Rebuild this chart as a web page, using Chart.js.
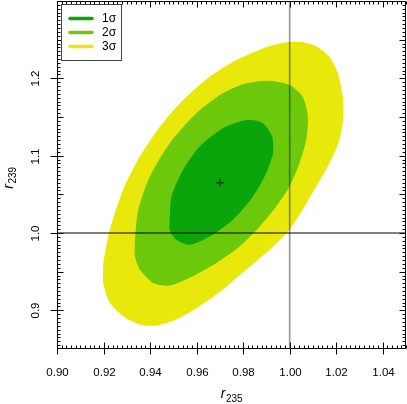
<!DOCTYPE html>
<html>
<head>
<meta charset="utf-8">
<script src="https://cdn.jsdelivr.net/npm/chart.js@4.4.1/dist/chart.umd.min.js"></script>
<style>
  html, body { margin: 0; padding: 0; background: #fff; }
  canvas { display: block; }
</style>
</head>
<body>
<canvas id="contourChart" width="407" height="404"></canvas>
<script>
// axis ticks
const xTicks = [0.90, 0.92, 0.94, 0.96, 0.98, 1.00, 1.02, 1.04];
const yTicks = [0.9, 1.0, 1.1, 1.2];
const sigmaLabels = ["1σ", "2σ", "3σ"];

// best fit point and reference lines
const bestFit = [0.970, 1.065];
const refX = 1.0;
const refY = 1.0;

// contour outlines [r235, r239]
const sigma1 = [
  [0.9485, 1.0214], [0.9492, 1.0472], [0.9542, 1.0817], [0.9613, 1.1117],
  [0.9713, 1.1355], [0.9814, 1.1462], [0.9885, 1.1419], [0.9925, 1.1246],
  [0.9928, 1.1032], [0.9899, 1.0774], [0.9842, 1.0472], [0.9756, 1.0172],
  [0.9656, 0.9956], [0.9570, 0.9849], [0.9513, 0.9914], [0.9485, 1.0043],
  [0.9485, 1.0214]
];
const sigma2 = [
  [0.9335, 0.9914], [0.9349, 1.0301], [0.9399, 1.0730], [0.9485, 1.1161],
  [0.9599, 1.1548], [0.9713, 1.1806], [0.9814, 1.1935], [0.9914, 1.1969],
  [0.9999, 1.1913], [1.0056, 1.1762], [1.0078, 1.1504], [1.0071, 1.1204],
  [1.0042, 1.0903], [0.9999, 1.0601], [0.9942, 1.0343], [0.9871, 1.0085],
  [0.9785, 0.9827], [0.9685, 0.9613], [0.9570, 0.9420], [0.9485, 0.9320],
  [0.9413, 0.9355], [0.9356, 0.9527], [0.9335, 0.9698], [0.9335, 0.9914]
];
const sigma3 = [
  [0.9199, 0.9613], [0.9227, 1.0043], [0.9284, 1.0559], [0.9356, 1.0988],
  [0.9442, 1.1375], [0.9542, 1.1720], [0.9656, 1.2020], [0.9771, 1.2236],
  [0.9885, 1.2387], [0.9971, 1.2459], [1.0042, 1.2472], [1.0114, 1.2416],
  [1.0171, 1.2278], [1.0207, 1.2064], [1.0228, 1.1762], [1.0231, 1.1504],
  [1.0214, 1.1204], [1.0171, 1.0903], [1.0114, 1.0601], [1.0056, 1.0301],
  [0.9999, 1.0043], [0.9914, 0.9785], [0.9814, 0.9527], [0.9713, 0.9269],
  [0.9613, 0.9053], [0.9513, 0.8882], [0.9428, 0.8804], [0.9356, 0.8817],
  [0.9284, 0.8924], [0.9227, 0.9097], [0.9199, 0.9355], [0.9199, 0.9613]
];

const toPts = arr => arr.map(p => ({ x: p[0], y: p[1] }));
const colors = ["#0aa50a", "#6cc80a", "#e8e80a"];

function contour(data, color, order) {
  return {
    data: toPts(data),
    showLine: true,
    fill: "shape",
    backgroundColor: color,
    borderWidth: 0,
    borderColor: color,
    pointRadius: 0,
    tension: 0.25,
    order: order
  };
}

const FONT = "'Liberation Sans', Arial, sans-serif";

const framePlugin = {
  id: "frame",
  afterDraw(chart) {
    const { ctx, chartArea: a, scales: { x, y } } = chart;
    const L = Math.round(a.left) + 0.5, R = Math.round(a.right) - 0.5;
    const T = Math.round(a.top) + 0.5, B = Math.round(a.bottom) - 0.5;
    ctx.save();
    ctx.strokeStyle = "#000";
    ctx.lineWidth = 1;
    const seg = (x1, y1, x2, y2) => { ctx.beginPath(); ctx.moveTo(x1, y1); ctx.lineTo(x2, y2); ctx.stroke(); };

    // x minor ticks (bottom and top)
    for (let i = 0; i <= 75; i++) {
      const v = 0.90 + i * 0.002;
      const px = Math.round(x.getPixelForValue(v)) + 0.5;
      if (px < L || px > R + 1) continue;
      seg(px, B, px, B - 3);
      seg(px, T, px, T + 3);
    }
    // y minor ticks (left and right)
    for (let i = 0; i <= 90; i++) {
      const v = 0.85 + i * 0.005;
      const py = Math.round(y.getPixelForValue(v)) + 0.5;
      if (py < T || py > B) continue;
      const big = i % 10 === 0;
      seg(L, py, L + (big ? 6 : 3), py);
      seg(R, py, R - (big ? 6 : 3), py);
    }
    // major ticks + labels
    ctx.fillStyle = "#000";
    ctx.font = "11.5px " + FONT;
    ctx.textAlign = "center";
    ctx.textBaseline = "middle";
    xTicks.forEach(v => {
      const px = Math.round(x.getPixelForValue(v)) + 0.5;
      seg(px, B - 6, px, B + 6);
      seg(px, T, px, T + 6);
      ctx.fillText(v.toFixed(2), px, 373);
    });
    yTicks.forEach(v => {
      const py = Math.round(y.getPixelForValue(v)) + 0.5;
      seg(L - 7, py, L + 6, py);
      ctx.save();
      ctx.translate(35.5, py);
      ctx.rotate(-Math.PI / 2);
      ctx.fillText(v.toFixed(1), 0, 0);
      ctx.restore();
    });

    // frame
    ctx.strokeRect(L, T, R - L, B - T);

    // axis titles
    ctx.textAlign = "left";
    ctx.textBaseline = "alphabetic";
    const widths = (main, sub) => {
      ctx.font = "italic 14px " + FONT;
      const w1 = ctx.measureText(main).width;
      ctx.font = "10px " + FONT;
      const w2 = ctx.measureText(sub).width;
      return [w1, w2];
    };
    let [w1, w2] = widths("r", "235");
    const cx = (a.left + a.right) / 2 - (w1 + w2) / 2;
    ctx.font = "italic 14px " + FONT;
    ctx.fillText("r", cx, 398);
    ctx.font = "10px " + FONT;
    ctx.fillText("235", cx + w1 + 0.5, 402);

    [w1, w2] = widths("r", "239");
    ctx.save();
    ctx.rotate(-Math.PI / 2);
    const cy = (a.top + a.bottom) / 2 + 3;
    const start = -(cy + (w1 + w2) / 2);
    ctx.font = "italic 14px " + FONT;
    ctx.fillText("r", start, 13);
    ctx.font = "10px " + FONT;
    ctx.fillText("239", start + w1 + 0.5, 16);
    ctx.restore();

    // legend box
    ctx.fillStyle = "#fff";
    ctx.fillRect(61.5, 4.5, 60, 56);
    ctx.strokeStyle = "#444";
    ctx.strokeRect(61.5, 4.5, 60, 56);
    ctx.lineCap = "round";
    ctx.lineWidth = 3.5;
    ctx.font = "12px " + FONT;
    ctx.textBaseline = "middle";
    sigmaLabels.forEach((s, i) => {
      const ly = 18.5 + i * 14;
      ctx.strokeStyle = colors[i];
      seg(70, ly, 92, ly);
      ctx.fillStyle = "#000";
      ctx.fillText(s, 102, ly);
    });
    ctx.restore();
  }
};

new Chart(document.getElementById("contourChart"), {
  type: "scatter",
  data: {
    datasets: [
      contour(sigma1, colors[0], 3),
      contour(sigma2, colors[1], 4),
      contour(sigma3, colors[2], 5),
      {
        data: [{ x: 0.90, y: refY }, { x: 1.05, y: refY }],
        showLine: true, borderColor: "#000", borderWidth: 1,
        pointRadius: 0, order: 2
      },
      {
        data: [{ x: refX, y: 0.85 }, { x: refX, y: 1.30 }],
        showLine: true, borderColor: "rgba(0,0,0,0.42)", borderWidth: 1.6,
        pointRadius: 0, order: 1
      },
      {
        data: [{ x: bestFit[0], y: bestFit[1] }],
        pointStyle: "cross", pointRadius: 4, borderWidth: 1.5,
        borderColor: "rgba(20,60,20,0.85)", order: 0
      }
    ]
  },
  options: {
    responsive: false,
    animation: false,
    devicePixelRatio: 1,
    layout: { autoPadding: false, padding: { left: 0, right: 1, top: 1, bottom: 0 } },
    plugins: { legend: { display: false }, tooltip: { enabled: false } },
    scales: {
      x: {
        type: "linear", min: 0.90, max: 1.05,
        grid: { display: false }, border: { display: false },
        ticks: { display: false },
        afterFit: s => { s.height = 55; }
      },
      y: {
        type: "linear", min: 0.85, max: 1.30,
        grid: { display: false }, border: { display: false },
        ticks: { display: false },
        afterFit: s => { s.width = 57; }
      }
    }
  },
  plugins: [framePlugin]
});
</script>
</body>
</html>
